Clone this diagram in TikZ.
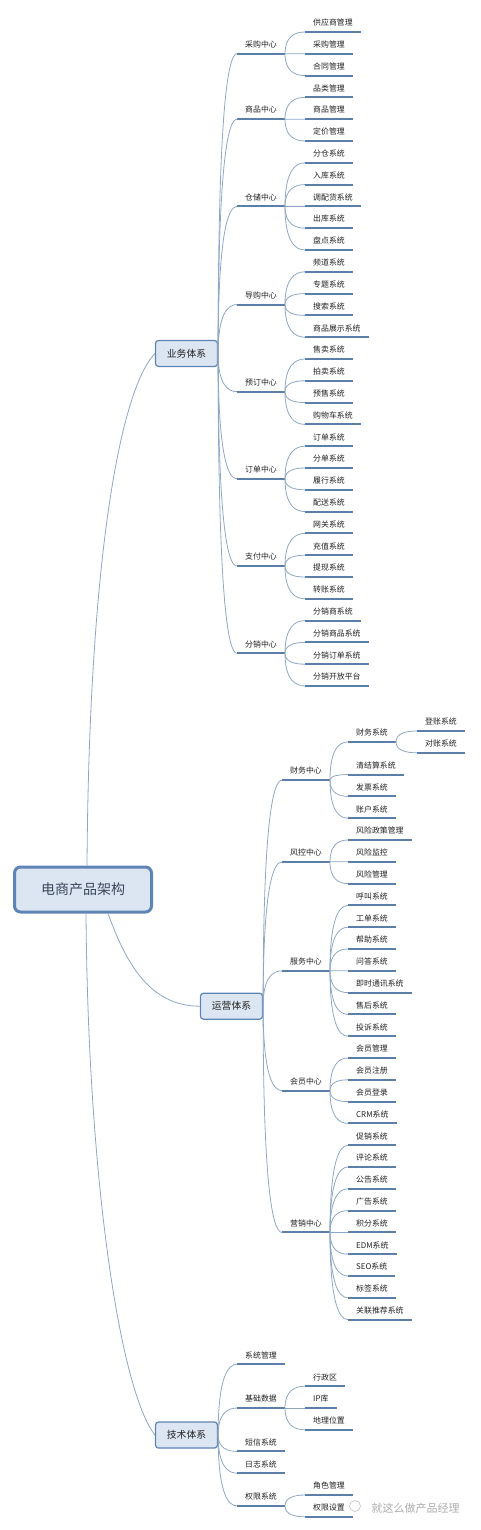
\documentclass[tikz,border=0pt]{standalone}
\usepackage{fontspec}
\newfontfamily\cjk{Noto Sans CJK SC}
\usetikzlibrary{positioning, calc}
\definecolor{boxfill}{HTML}{DCE6F2}
\definecolor{boxline}{HTML}{5D84B5}
\definecolor{roottext}{HTML}{3A475A}
\definecolor{inktext}{HTML}{222222}
\definecolor{ulblue}{HTML}{5B7FA8}
\definecolor{linkblue}{HTML}{8FA7C4}
\tikzset{
    base/.style = {font=\cjk\fontsize{7.9}{9}\selectfont, text=inktext},
    % Topics
    rootbox/.style = {base, rectangle, rounded corners=6pt, draw=boxline, line width=3pt,
        fill=boxfill, minimum width=137pt, minimum height=45pt,
        font=\cjk\fontsize{14}{16}\selectfont, text=roottext},
    mainbox/.style = {base, rectangle, rounded corners=3pt, draw=boxline, line width=1.2pt,
        fill=boxfill, minimum width=62pt, minimum height=26pt,
        font=\cjk\fontsize{9.8}{11}\selectfont},
    uline/.style = {draw=ulblue, line width=2pt},
    item/.style = {base, anchor=south west, inner xsep=8pt, inner ysep=4.5pt,
        text height=6.5pt, text depth=1.5pt,
        append after command={(\tikzlastnode.south west) edge[uline] (\tikzlastnode.south east)}},
    % Connectors
    link/.style = {draw=linkblue, line width=0.8pt,
        to path={let \p1=(\tikztostart), \p2=(\tikztotarget) in
            .. controls (\x1,{0.2*\y1+0.8*\y2}) and ({0.5*\x1+0.5*\x2},\y2) .. (\tikztotarget)}}
}
\begin{document}
\begin{tikzpicture}[x=1pt, y=-1pt, node distance=21.8pt]
    \useasboundingbox (0,0) rectangle (480,1530);

    \node (root) [rootbox] at (83,889.5) {电商产品架构};

    % Business
    \node (biz) [mainbox] at (186.5,353.5) {业务体系};

    \node (purch)   [item] at (237,53.8)  {采购中心};
    \node (goods)   [item] at (237,119.2) {商品中心};
    \node (store)   [item] at (237,206.4) {仓储中心};
    \node (guide)   [item] at (237,304.5) {导购中心};
    \node (booking) [item] at (237,391.7) {预订中心};
    \node (order)   [item] at (237,478.9) {订单中心};
    \node (pay)     [item] at (237,566.1) {支付中心};
    \node (dist)    [item] at (237,653.3) {分销中心};

    \node (supplier)    [item] at (305,32) {供应商管理};
    \node (purmgmt)     [below=of supplier.south west, item] {采购管理};
    \node (contract)    [below=of purmgmt.south west, item] {合同管理};
    \node (category)    [below=of contract.south west, item] {品类管理};
    \node (goodsmgmt)   [below=of category.south west, item] {商品管理};
    \node (pricing)     [below=of goodsmgmt.south west, item] {定价管理};
    \node (splitwh)     [below=of pricing.south west, item] {分仓系统};
    \node (inbound)     [below=of splitwh.south west, item] {入库系统};
    \node (allot)       [below=of inbound.south west, item] {调配货系统};
    \node (outbound)    [below=of allot.south west, item] {出库系统};
    \node (stock)       [below=of outbound.south west, item] {盘点系统};
    \node (channel)     [below=of stock.south west, item] {频道系统};
    \node (special)     [below=of channel.south west, item] {专题系统};
    \node (search)      [below=of special.south west, item] {搜索系统};
    \node (display)     [below=of search.south west, item] {商品展示系统};
    \node (sale)        [below=of display.south west, item] {售卖系统};
    \node (auction)     [below=of sale.south west, item] {拍卖系统};
    \node (presale)     [below=of auction.south west, item] {预售系统};
    \node (cart)        [below=of presale.south west, item] {购物车系统};
    \node (ordersys)    [below=of cart.south west, item] {订单系统};
    \node (splitorder)  [below=of ordersys.south west, item] {分单系统};
    \node (fulfil)      [below=of splitorder.south west, item] {履行系统};
    \node (delivery)    [below=of fulfil.south west, item] {配送系统};
    \node (gateway)     [below=of delivery.south west, item] {网关系统};
    \node (topup)       [below=of gateway.south west, item] {充值系统};
    \node (withdraw)    [below=of topup.south west, item] {提现系统};
    \node (transfer)    [below=of withdraw.south west, item] {转账系统};
    \node (distributor) [below=of transfer.south west, item] {分销商系统};
    \node (distgoods)   [below=of distributor.south west, item] {分销商品系统};
    \node (distorder)   [below=of distgoods.south west, item] {分销订单系统};
    \node (openplat)    [below=of distorder.south west, item] {分销开放平台};

    % Operations
    \node (ops) [mainbox] at (231.5,1006.2) {运营体系};

    \node (finance) [item] at (282,780.1)  {财务中心};
    \node (risk)    [item] at (282,861.8)  {风控中心};
    \node (service) [item] at (282,970.8)  {服务中心};
    \node (member)  [item] at (282,1090.7) {会员中心};
    \node (market)  [item] at (282,1232.4) {营销中心};

    \node (posting)   [item] at (417,731) {登账系统};
    \node (reconcile) [below=of posting.south west, item] {对账系统};
    \node (finsys)    [item] at (348,741.9) {财务系统};

    \node (clearing)  [item] at (348,774.6) {清结算系统};
    \node (invoice)   [below=of clearing.south west, item] {发票系统};
    \node (account)   [below=of invoice.south west, item] {账户系统};
    \node (policy)    [below=of account.south west, item] {风险政策管理};
    \node (monitor)   [below=of policy.south west, item] {风险监控};
    \node (riskmgmt)  [below=of monitor.south west, item] {风险管理};
    \node (call)      [below=of riskmgmt.south west, item] {呼叫系统};
    \node (ticket)    [below=of call.south west, item] {工单系统};
    \node (help)      [below=of ticket.south west, item] {帮助系统};
    \node (qa)        [below=of help.south west, item] {问答系统};
    \node (im)        [below=of qa.south west, item] {即时通讯系统};
    \node (aftersale) [below=of im.south west, item] {售后系统};
    \node (complaint) [below=of aftersale.south west, item] {投诉系统};
    \node (memmgmt)   [below=of complaint.south west, item] {会员管理};
    \node (register)  [below=of memmgmt.south west, item] {会员注册};
    \node (login)     [below=of register.south west, item] {会员登录};
    \node (crm)       [below=of login.south west, item] {CRM系统};
    \node (promo)     [below=of crm.south west, item] {促销系统};
    \node (review)    [below=of promo.south west, item] {评论系统};
    \node (notice)    [below=of review.south west, item] {公告系统};
    \node (ads)       [below=of notice.south west, item] {广告系统};
    \node (points)    [below=of ads.south west, item] {积分系统};
    \node (edm)       [below=of points.south west, item] {EDM系统};
    \node (seo)       [below=of edm.south west, item] {SEO系统};
    \node (tags)      [below=of seo.south west, item] {标签系统};
    \node (recommend) [below=of tags.south west, item] {关联推荐系统};

    % Technology
    \node (tech) [mainbox] at (186.5,1435) {技术体系};

    \node (sysmgmt)  [item] at (237,1364.2) {系统管理};
    \node (basedata) [item] at (237,1408)   {基础数据};
    \node (sms)      [item] at (237,1451.4) {短信系统};
    \node (logsys)   [item] at (237,1473.2) {日志系统};
    \node (perm)     [item] at (237,1505.9) {权限系统};

    \node (region)  [item] at (305,1386.2) {行政区};
    \node (iplib)   [below=of region.south west, item] {IP库};
    \node (geo)     [below=of iplib.south west, item] {地理位置};
    \node (role)    [item] at (305,1495) {角色管理};
    \node (permset) [below=of role.south west, item] {权限设置};

    \node (logo) [circle, draw=black!22, line width=0.7pt, minimum size=11pt, inner sep=0pt] at (355,1506) {};
    \node (mark) [base, font=\cjk\fontsize{11}{13}\selectfont, text=black!32, anchor=west] at (368,1508) {就这么做产品经理};

    % Root to main topics
    \draw [link] ([xshift=4pt]root.north) .. controls (89,560) and (120,390) .. (biz.west);
    \draw [link] ([xshift=25pt]root.south) to[out=-70, in=180] (ops.west);
    \draw [link] ([xshift=3pt]root.south) .. controls (88,1180) and (120,1390) .. (tech.west);

    % Business branches
    \draw [link] (biz.east) edge (purch.south west) edge (goods.south west) edge (store.south west)
        edge (guide.south west) edge (booking.south west) edge (order.south west)
        edge (pay.south west) edge (dist.south west);
    \draw [link] (purch.south east) edge (supplier.south west) edge (purmgmt.south west) edge (contract.south west);
    \draw [link] (goods.south east) edge (category.south west) edge (goodsmgmt.south west) edge (pricing.south west);
    \draw [link] (store.south east) edge (splitwh.south west) edge (inbound.south west) edge (allot.south west)
        edge (outbound.south west) edge (stock.south west);
    \draw [link] (guide.south east) edge (channel.south west) edge (special.south west) edge (search.south west)
        edge (display.south west);
    \draw [link] (booking.south east) edge (sale.south west) edge (auction.south west) edge (presale.south west)
        edge (cart.south west);
    \draw [link] (order.south east) edge (ordersys.south west) edge (splitorder.south west) edge (fulfil.south west)
        edge (delivery.south west);
    \draw [link] (pay.south east) edge (gateway.south west) edge (topup.south west) edge (withdraw.south west)
        edge (transfer.south west);
    \draw [link] (dist.south east) edge (distributor.south west) edge (distgoods.south west)
        edge (distorder.south west) edge (openplat.south west);

    % Operations branches
    \draw [link] (ops.east) edge (finance.south west) edge (risk.south west) edge (service.south west)
        edge (member.south west) edge (market.south west);
    \draw [link] (finance.south east) edge (finsys.south west) edge (clearing.south west) edge (invoice.south west)
        edge (account.south west);
    \draw [link] (finsys.south east) edge (posting.south west) edge (reconcile.south west);
    \draw [link] (risk.south east) edge (policy.south west) edge (monitor.south west) edge (riskmgmt.south west);
    \draw [link] (service.south east) edge (call.south west) edge (ticket.south west) edge (help.south west)
        edge (qa.south west) edge (im.south west) edge (aftersale.south west) edge (complaint.south west);
    \draw [link] (member.south east) edge (memmgmt.south west) edge (register.south west) edge (login.south west)
        edge (crm.south west);
    \draw [link] (market.south east) edge (promo.south west) edge (review.south west) edge (notice.south west)
        edge (ads.south west) edge (points.south west) edge (edm.south west) edge (seo.south west)
        edge (tags.south west) edge (recommend.south west);

    % Technology branches
    \draw [link] (tech.east) edge (sysmgmt.south west) edge (basedata.south west) edge (sms.south west)
        edge (logsys.south west) edge (perm.south west);
    \draw [link] (basedata.south east) edge (region.south west) edge (iplib.south west) edge (geo.south west);
    \draw [link] (perm.south east) edge (role.south west) edge (permset.south west);
\end{tikzpicture}
\end{document}
